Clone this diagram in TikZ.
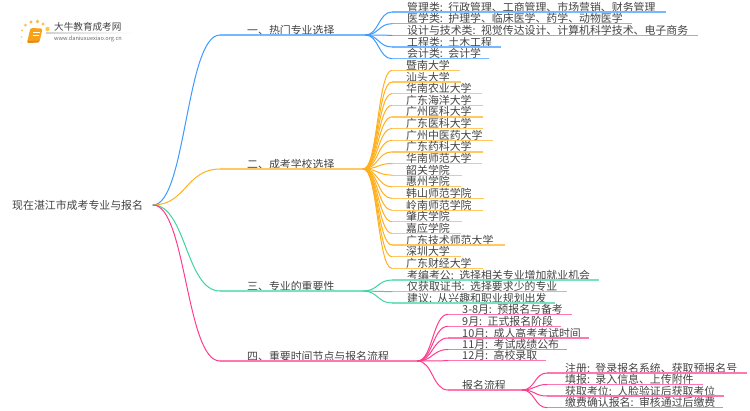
\documentclass[tikz,border=0pt]{standalone}
\usepackage{fontspec}
\setmainfont{Noto Sans CJK SC}
\usetikzlibrary{calc}
\definecolor{cblue}{HTML}{3D9BFF}
\definecolor{corange}{HTML}{FFB020}
\definecolor{cgreen}{HTML}{3DD6A0}
\definecolor{cpink}{HTML}{FF3D8F}
\definecolor{ctext}{HTML}{444444}
\tikzset{
  lbl/.style={anchor=south west,inner xsep=0pt,inner ysep=0pt,text height=9.5pt,text depth=0.8pt,text=ctext,font=\fontsize{10.9}{12}\selectfont,align=left},
  conn/.style={line width=1pt,line cap=round},
  rule/.style={line width=1.2pt,#1!70}
}
% \leafnode{name}{x0}{y}{x1}{text x offset}{parent}{colour}{text}
\newcommand{\leafnode}[8]{%
  \pgfmathsetmacro{\wid}{#4-#2}%
  \node[lbl,text width=\wid pt] (#1) at (#2,#3) {\hspace*{#5pt}\mbox{#8}};
  \draw[rule=#7] (#1.south west) -- (#1.south east);
  \draw[conn,#7] (#6) .. controls ($(#6)!0.5!(#1.south west |- #6)$) and ($(#1.south west)!0.5!(#6 |- #1.south west)$) .. (#1.south west);
}
\begin{document}
\begin{tikzpicture}[x=1pt,y=-1pt]
\useasboundingbox (0,0) rectangle (750,410);
\fill[white] (0,0) rectangle (750,410);

% logo
\shade[left color=gray!35,right color=white,draw=none] (46,32.7) rectangle (133,33.3);
\foreach \px/\py/\pr/\pc in {21.5/43/0.7/FFD98A,21.5/37/0.9/FFD070,22/30.5/1.1/FFC850,25.5/25/1.5/FFC040,31/22/1.7/FFB830,37.5/21.5/1.8/FFC030,43/24/1.7/FFC040,47.5/29/2.2/FFC84A}{
  \definecolor{tmpc}{HTML}{\pc}
  \fill[tmpc] (\px,\py) circle (\pr);
}
\definecolor{bkA}{HTML}{F7A21B}\definecolor{bkB}{HTML}{E8861A}
\fill[bkA,rounded corners=1.5pt] (30.5,28) -- (42.5,28.5) -- (39.5,42) -- (27,42.5) -- cycle;
\fill[bkB,rounded corners=1pt] (27,41) -- (39.5,40.5) -- (39,42.5) -- (27.5,43) -- cycle;
\draw[white,line width=0.6pt] (33,32) -- (39.5,32) (32.5,35) -- (39,35);
\node[inner sep=0pt,anchor=west,text=ctext,font=\fontsize{9.6}{11}\selectfont] (logotitle) at (54,27) {大牛教育成考网};
\node[inner sep=0pt,anchor=west,text=ctext!80,font=\fontsize{5.6}{7}\selectfont] (logourl) at (54,38.5) {www.daniuxuexiao.org.cn};

% root
\node[lbl,text width=130pt] (root) at (12,210) {现在湛江市成考专业与报名};
\coordinate (rootout) at (153,205);

% level 1
\node[lbl,text width=145pt] (b1) at (220,35) {\hspace*{27pt}一、热门专业选择};
\node[lbl,text width=143pt] (b2) at (220,169) {\hspace*{27pt}二、成考学校选择};
\node[lbl,text width=143pt] (b3) at (220,291) {\hspace*{27pt}三、专业的重要性};
\node[lbl,text width=197pt] (b4) at (220,361) {\hspace*{27pt}四、重要时间节点与报名流程};
\foreach \n/\c in {b1/cblue,b2/corange,b3/cgreen,b4/cpink}{
  \draw[rule=\c] (\n.south west) -- (\n.south east);
  \draw[conn,\c] (rootout) .. controls (186,205) and (186 ,0 |- \n.south west) .. (\n.south west);
}
\coordinate (h1) at (b1.south east);
\coordinate (h2) at (b2.south east);
\coordinate (h3) at (b3.south east);
\coordinate (h4) at (b4.south east);

% blue leaves
\leafnode{a1}{392}{12}{666}{15}{h1}{cblue}{管理类: 行政管理、工商管理、市场营销、财务管理}
\leafnode{a2}{392}{23.7}{632}{15}{h1}{cblue}{医学类: 护理学、临床医学、药学、动物医学}
\leafnode{a3}{392}{35.3}{698}{15}{h1}{cblue}{设计与技术类: 视觉传达设计、计算机科学技术、电子商务}
\leafnode{a4}{392}{47}{501}{15}{h1}{cblue}{工程类: 土木工程}
\leafnode{a5}{392}{58.7}{489}{15}{h1}{cblue}{会计类: 会计学}

% orange leaves
\leafnode{s1}{392}{70.3}{460}{14}{h2}{corange}{暨南大学}
\leafnode{s2}{392}{82}{461}{14}{h2}{corange}{汕头大学}
\leafnode{s3}{392}{93.6}{482}{14}{h2}{corange}{华南农业大学}
\leafnode{s4}{392}{105.3}{483}{14}{h2}{corange}{广东海洋大学}
\leafnode{s5}{392}{116.9}{483}{14}{h2}{corange}{广州医科大学}
\leafnode{s6}{392}{128.6}{483}{14}{h2}{corange}{广东医科大学}
\leafnode{s7}{392}{140.2}{493}{14}{h2}{corange}{广州中医药大学}
\leafnode{s8}{392}{151.9}{483}{14}{h2}{corange}{广东药科大学}
\leafnode{s9}{392}{163.5}{482}{14}{h2}{corange}{华南师范大学}
\leafnode{s10}{392}{175.1}{461.5}{14}{h2}{corange}{韶关学院}
\leafnode{s11}{392}{186.8}{461}{14}{h2}{corange}{惠州学院}
\leafnode{s12}{392}{198.4}{483.5}{14}{h2}{corange}{韩山师范学院}
\leafnode{s13}{392}{210.1}{483}{14}{h2}{corange}{岭南师范学院}
\leafnode{s14}{392}{221.7}{461.5}{14}{h2}{corange}{肇庆学院}
\leafnode{s15}{392}{233.4}{461}{14}{h2}{corange}{嘉应学院}
\leafnode{s16}{392}{245}{505}{14}{h2}{corange}{广东技术师范大学}
\leafnode{s17}{392}{256.7}{461}{14}{h2}{corange}{深圳大学}
\leafnode{s18}{392}{268.3}{483}{14}{h2}{corange}{广东财经大学}

% green leaves
\leafnode{g1}{392}{280}{599}{15}{h3}{cgreen}{考编考公: 选择相关专业增加就业机会}
\leafnode{g2}{392}{291.7}{567}{15}{h3}{cgreen}{仅获取证书: 选择要求少的专业}
\leafnode{g3}{392}{303}{555}{15}{h3}{cgreen}{建议: 从兴趣和职业规划出发}

% pink children
\leafnode{p1}{448}{314.3}{572}{14}{h4}{cpink}{3-8月: 预报名与备考}
\leafnode{p2}{448}{326.3}{561}{14}{h4}{cpink}{9月: 正式报名阶段}
\leafnode{p3}{448}{338}{589}{14}{h4}{cpink}{10月: 成人高考考试时间}
\leafnode{p4}{448}{349.5}{567}{14}{h4}{cpink}{11月: 考试成绩公布}
\leafnode{p5}{448}{360.7}{546}{14}{h4}{cpink}{12月: 高校录取}
\leafnode{p6}{448}{390}{522}{14}{h4}{cpink}{报名流程}
\coordinate (h6) at (p6.south east);
\leafnode{q1}{547}{373}{747}{18}{h6}{cpink}{注册: 登录报名系统、获取预报名号}
\leafnode{q2}{547}{384.5}{703}{18}{h6}{cpink}{填报: 录入信息、上传附件}
\leafnode{q3}{547}{396}{724}{18}{h6}{cpink}{获取考位: 人脸验证后获取考位}
\leafnode{q4}{547}{407.7}{723}{18}{h6}{cpink}{缴费确认报名: 审核通过后缴费}
\end{tikzpicture}
\end{document}
